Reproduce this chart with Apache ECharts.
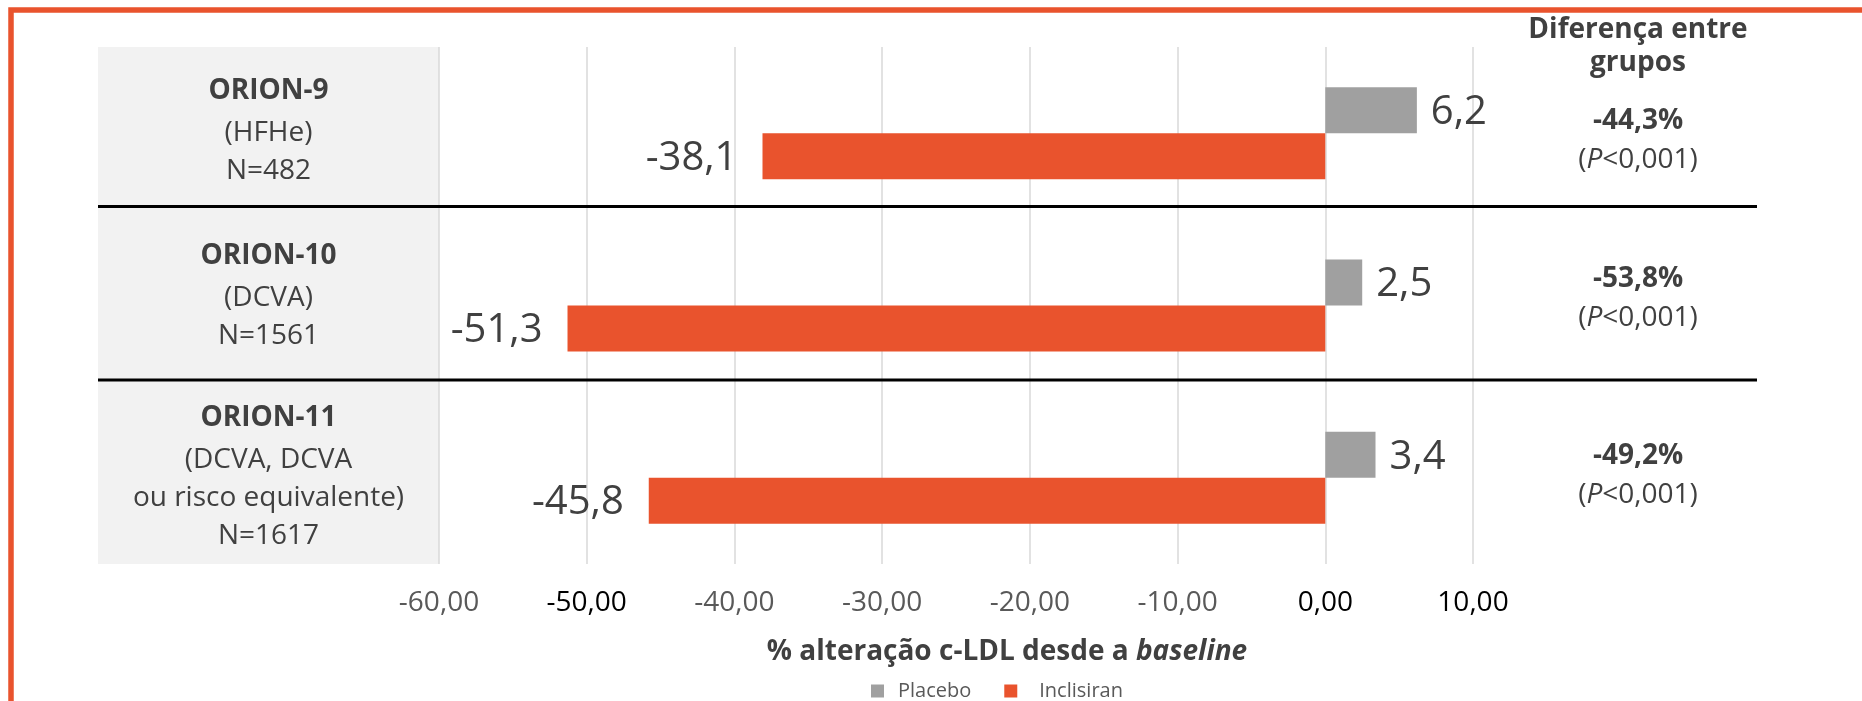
<!DOCTYPE html>
<html lang="pt">
<head>
    <meta charset="UTF-8">
    <title>ORION - % alteração c-LDL</title>
    <style>
        * {
            margin: 0;
            padding: 0;
        }

        body {
            background-color: #fff;
        }

        #myChart {
            width: 1862px;
            height: 701px;
        }
    </style>
</head>
<body>
    <div id="myChart"></div>
    <script src="https://cdn.jsdelivr.net/npm/echarts@6/dist/echarts.min.js"></script>
    <script>
        // dados
        var trials = ['ORION-9', 'ORION-10', 'ORION-11'];
        var populations = ['(HFHe)', '(DCVA)', '(DCVA, DCVA\nou risco equivalente)'];
        var sampleSizes = ['N=482', 'N=1561', 'N=1617'];
        var placebo = [6.2, 2.5, 3.4];
        var inclisiran = [-38.1, -51.3, -45.8];
        var differences = ['-44,3%', '-53,8%', '-49,2%'];
        var pValues = ['<0,001', '<0,001', '<0,001'];
        var xMin = -60;
        var xMax = 10;
        var xStep = 10;

        // estilos
        var ORANGE = '#E9532D';
        var GREY = '#A0A0A0';
        var TEXT = '#404040';
        var FONT = '"Open Sans", sans-serif';
        var darkTicks = [-50, 0, 10];      // no original estes rótulos estão mais escuros
        var leftShift = [-4, -11, -3];     // ajuste vertical dos rótulos da esquerda
        var rightShift = [7.5, -6.5, -2];  // ajuste vertical dos rótulos da direita

        function comma(v, d) {
            return v.toFixed(d).replace('.', ',');
        }

        // linha vazia usada para deslocar o bloco de texto
        function spacer(name) {
            return '{' + name + '| }';
        }

        function buildRich(base, shifts, prefix) {
            var rich = Object.assign({}, base);
            for (var i = 0; i < shifts.length; i++) {
                rich[prefix + i] = { fontSize: 1, lineHeight: Math.abs(shifts[i]) * 2, align: 'center' };
            }
            return rich;
        }

        function leftLabel(value, index) {
            var lines = ['{t|' + trials[index] + '}'];
            populations[index].split('\n').forEach(function (s) {
                lines.push('{r|' + s + '}');
            });
            lines.push('{r|' + sampleSizes[index] + '}');
            var sh = leftShift[index];
            if (sh < 0) lines.push(spacer('ls' + index));
            else if (sh > 0) lines.unshift(spacer('ls' + index));
            return lines.join('\n');
        }

        function rightLabel(value, index) {
            var lines = [
                '{d|' + differences[index] + '}',
                '{p|(}{pi|P}{p|' + pValues[index] + ')}'
            ];
            var sh = rightShift[index];
            if (sh < 0) lines.push(spacer('rs' + index));
            else if (sh > 0) lines.unshift(spacer('rs' + index));
            return lines.join('\n');
        }

        var chart = echarts.init(document.getElementById('myChart'));

        var option = {
            animation: false,
            backgroundColor: '#fff',
            textStyle: { fontFamily: FONT, color: TEXT },
            title: {
                text: 'Diferença entre\ngrupos',
                left: 1638,
                top: 14,
                padding: 0,
                textAlign: 'center',
                textStyle: {
                    fontFamily: FONT,
                    fontSize: 28,
                    fontWeight: 'bold',
                    color: TEXT,
                    lineHeight: 33
                }
            },
            grid: {
                left: 439,
                right: 389,
                top: 47,
                bottom: 137,
                containLabel: false,
                outerBoundsMode: 'none'
            },
            legend: {
                data: ['Placebo', 'Inclisiran'],
                left: 871,
                top: 681,
                padding: 0,
                icon: 'rect',
                itemWidth: 13,
                itemHeight: 13,
                itemGap: 33,
                formatter: function (name) {
                    return name === 'Placebo' ? '{a|' + name + '}' : '{b|' + name + '}';
                },
                textStyle: {
                    fontFamily: FONT,
                    fontSize: 20,
                    color: '#595959',
                    rich: {
                        a: { fontFamily: FONT, fontSize: 20, color: '#595959', padding: [0, 0, 0, 9] },
                        b: { fontFamily: FONT, fontSize: 20, color: '#595959', padding: [0, 0, 0, 17] }
                    }
                }
            },
            xAxis: {
                type: 'value',
                min: xMin,
                max: xMax,
                interval: xStep,
                name: '{b|% alteração c-LDL desde a }{i|baseline}',
                nameLocation: 'middle',
                nameGap: 71,
                nameMoveOverlap: false,
                nameTextStyle: {
                    padding: [0, 0, 0, 102],
                    rich: {
                        b: { fontFamily: FONT, fontSize: 28, fontWeight: 'bold', color: TEXT, lineHeight: 34 },
                        i: { fontFamily: FONT, fontSize: 28, fontWeight: 'bold', fontStyle: 'italic', color: TEXT, lineHeight: 34 }
                    }
                },
                axisLine: { show: false },
                axisTick: { show: false },
                splitLine: {
                    show: true,
                    lineStyle: { color: '#D9D9D9', width: 1.5 }
                },
                axisLabel: {
                    margin: 22,
                    showMinLabel: true,
                    showMaxLabel: true,
                    formatter: function (v) {
                        var style = darkTicks.indexOf(v) !== -1 ? 'k' : 'g';
                        return '{' + style + '|' + comma(v, 2) + '}';
                    },
                    rich: {
                        k: { fontFamily: FONT, fontSize: 28, color: '#000', lineHeight: 34 },
                        g: { fontFamily: FONT, fontSize: 28, color: '#595959', lineHeight: 34 }
                    }
                }
            },
            yAxis: [
                {
                    type: 'category',
                    inverse: true,
                    data: trials,
                    axisLine: { show: false },
                    axisTick: { show: false },
                    splitLine: { show: false },
                    axisLabel: {
                        interval: 0,
                        align: 'center',
                        margin: 170.5,
                        formatter: leftLabel,
                        rich: buildRich({
                            t: { fontFamily: FONT, fontSize: 28, fontWeight: 'bold', color: TEXT, lineHeight: 46, align: 'center' },
                            r: { fontFamily: FONT, fontSize: 28, color: TEXT, lineHeight: 38, align: 'center' }
                        }, leftShift, 'ls')
                    }
                },
                {
                    type: 'category',
                    inverse: true,
                    position: 'right',
                    data: trials,
                    axisLine: { show: false },
                    axisTick: { show: false },
                    splitLine: { show: false },
                    axisLabel: {
                        interval: 0,
                        align: 'center',
                        margin: 165,
                        formatter: rightLabel,
                        rich: buildRich({
                            d: { fontFamily: FONT, fontSize: 28, fontWeight: 'bold', color: TEXT, lineHeight: 39, align: 'center' },
                            p: { fontFamily: FONT, fontSize: 28, color: TEXT, lineHeight: 39, align: 'center' },
                            pi: { fontFamily: FONT, fontSize: 28, fontStyle: 'italic', color: TEXT, lineHeight: 39, align: 'center' }
                        }, rightShift, 'rs')
                    }
                }
            ],
            graphic: [
                // painel cinzento atrás dos nomes dos estudos
                {
                    type: 'rect',
                    z: -10,
                    shape: { x: 98, y: 47, width: 341, height: 517 },
                    style: { fill: '#F2F2F2' }
                },
                // separadores pretos
                {
                    type: 'line',
                    z: 100,
                    shape: { x1: 98, y1: 206.5, x2: 1757, y2: 206.5 },
                    style: { stroke: '#000', lineWidth: 3 }
                },
                {
                    type: 'line',
                    z: 100,
                    shape: { x1: 98, y1: 380, x2: 1757, y2: 380 },
                    style: { stroke: '#000', lineWidth: 3 }
                },
                // moldura laranja
                {
                    type: 'rect',
                    z: 100,
                    shape: { x: 11, y: 10, width: 2000, height: 1000 },
                    style: { fill: 'none', stroke: ORANGE, lineWidth: 5.5 }
                }
            ],
            series: [
                {
                    name: 'Placebo',
                    type: 'bar',
                    yAxisIndex: 0,
                    data: placebo,
                    barWidth: 46,
                    barGap: '0%',
                    itemStyle: { color: GREY },
                    label: {
                        show: true,
                        position: 'right',
                        distance: 14,
                        offset: [0, 2.5],
                        fontFamily: FONT,
                        fontSize: 40,
                        color: TEXT,
                        formatter: function (p) { return comma(p.value, 1); }
                    }
                },
                {
                    name: 'Inclisiran',
                    type: 'bar',
                    yAxisIndex: 0,
                    data: inclisiran,
                    barWidth: 46,
                    barGap: '0%',
                    itemStyle: { color: ORANGE },
                    label: {
                        show: true,
                        position: 'left',
                        distance: 25,
                        offset: [0, 2],
                        fontFamily: FONT,
                        fontSize: 40,
                        color: TEXT,
                        formatter: function (p) { return comma(p.value, 1); }
                    }
                }
            ]
        };

        chart.setOption(option);
    </script>
</body>
</html>
